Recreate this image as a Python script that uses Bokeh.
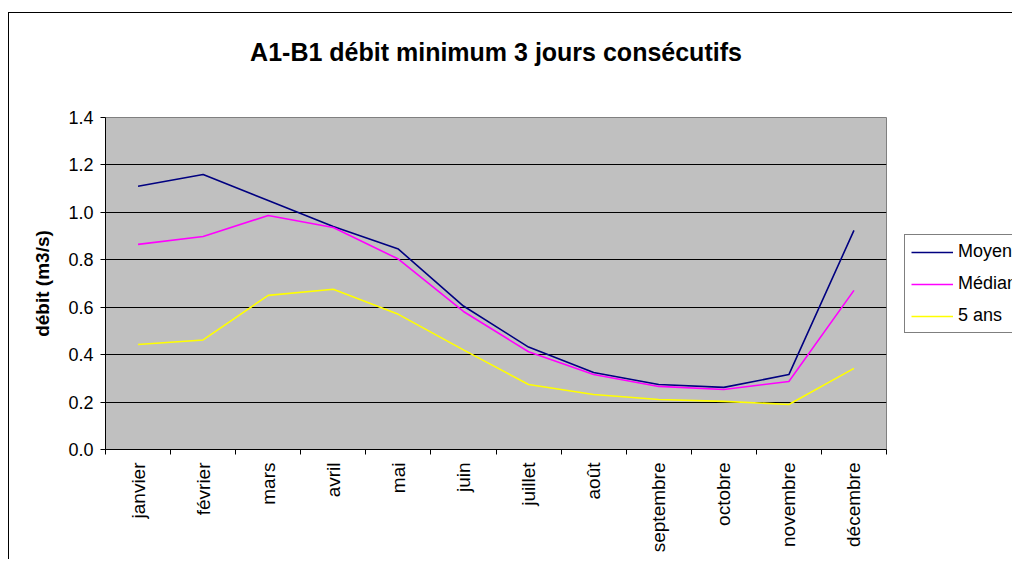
import math
from bokeh.plotting import figure
from bokeh.models import Range1d, FixedTicker, NumeralTickFormatter, Legend, LegendItem, Title
from bokeh.embed import file_html
from bokeh.resources import INLINE

# ---- data ----
months = ["janvier", "février", "mars", "avril", "mai", "juin", "juillet",
          "août", "septembre", "octobre", "novembre", "décembre"]
moyen = [1.110, 1.160, 1.050, 0.940, 0.845, 0.605, 0.432, 0.325, 0.274, 0.262, 0.316, 0.924]
median = [0.865, 0.898, 0.987, 0.936, 0.803, 0.582, 0.412, 0.316, 0.266, 0.253, 0.287, 0.671]
cinq_ans = [0.443, 0.462, 0.650, 0.676, 0.570, 0.420, 0.274, 0.232, 0.211, 0.203, 0.190, 0.342]
series_names = ["Moyen", "Médian", "5 ans"]
y_ticks = [0.0, 0.2, 0.4, 0.6, 0.8, 1.0, 1.2, 1.4]
title_text = "A1-B1 débit minimum 3 jours consécutifs"
y_label = "débit (m3/s)"

FONT = "Liberation Sans"
xs = [i + 0.5 for i in range(len(months))]
bounds = [float(i) for i in range(len(months) + 1)]

p = figure(frame_width=781, frame_height=332,
           min_border_left=96, min_border_right=126,
           min_border_top=104, min_border_bottom=110,
           x_range=Range1d(0, len(months)), y_range=Range1d(0, 1.4),
           output_backend="svg", toolbar_location=None,
           background_fill_color="#C0C0C0", border_fill_color="white",
           outline_line_color="#808080", outline_line_width=1,
           styles={"border-top": "1px solid black", "border-left": "1px solid black",
                   "margin-left": "8px", "margin-top": "12px"})
p.title.text = ""

# spacer (nearest the frame) then the real title above it
spacer = Title(text=" ", text_font=FONT, text_font_size="10px", standoff=16)
p.add_layout(spacer, "above")
title = Title(text=title_text, align="center", offset=6,
              text_font=FONT, text_font_size="25px", text_font_style="bold",
              text_color="black", standoff=45)
p.add_layout(title, "above")

# grids
p.xgrid.visible = False
p.ygrid.ticker = FixedTicker(ticks=y_ticks[1:-1])
p.ygrid.grid_line_color = "black"
p.ygrid.grid_line_width = 1

# y axis
p.yaxis.ticker = FixedTicker(ticks=y_ticks)
p.yaxis.formatter = NumeralTickFormatter(format="0.0")
p.yaxis.axis_line_color = "black"
p.yaxis.major_tick_line_color = "black"
p.yaxis.major_tick_out = 5
p.yaxis.major_tick_in = 0
p.yaxis.minor_tick_line_color = None
p.yaxis.major_label_text_font = FONT
p.yaxis.major_label_text_font_size = "18px"
p.yaxis.major_label_text_color = "black"
p.yaxis.major_label_standoff = 7
p.yaxis.axis_label = y_label
p.yaxis.axis_label_text_font = FONT
p.yaxis.axis_label_text_font_size = "19px"
p.yaxis.axis_label_text_font_style = "bold"
p.yaxis.axis_label_text_color = "black"
p.yaxis.axis_label_standoff = 12

# x axis: labels at category centres, tick marks at category boundaries
p.xaxis.ticker = FixedTicker(ticks=xs, minor_ticks=bounds)
p.xaxis.major_label_overrides = {x: m for x, m in zip(xs, months)}
p.xaxis.major_label_orientation = math.pi / 2
p.xaxis.axis_line_color = "black"
p.xaxis.major_tick_line_color = None
p.xaxis.major_tick_out = 5
p.xaxis.major_tick_in = 0
p.xaxis.minor_tick_line_color = "black"
p.xaxis.minor_tick_out = 5
p.xaxis.minor_tick_in = 0
p.xaxis.major_label_text_font = FONT
p.xaxis.major_label_text_font_size = "19px"
p.xaxis.major_label_text_color = "black"
p.xaxis.major_label_standoff = 8

colors = ["#000080", "#FF00FF", "#FFFF00"]
items = []
for name, vals, col in zip(series_names, [moyen, median, cinq_ans], colors):
    r = p.line(xs, vals, line_color=col, line_width=1.6)
    items.append(LegendItem(label=name, renderers=[r]))

legend = Legend(items=items, location=(18, 116),
                border_line_color="black", border_line_width=1,
                background_fill_color="white", background_fill_alpha=1,
                label_text_font=FONT, label_text_font_size="18px",
                label_text_color="black",
                glyph_width=42, glyph_height=20, label_height=20,
                label_standoff=5, padding=6, spacing=11, margin=0)
p.add_layout(legend, "right")

open("out.html", "w").write(file_html(p, INLINE))
